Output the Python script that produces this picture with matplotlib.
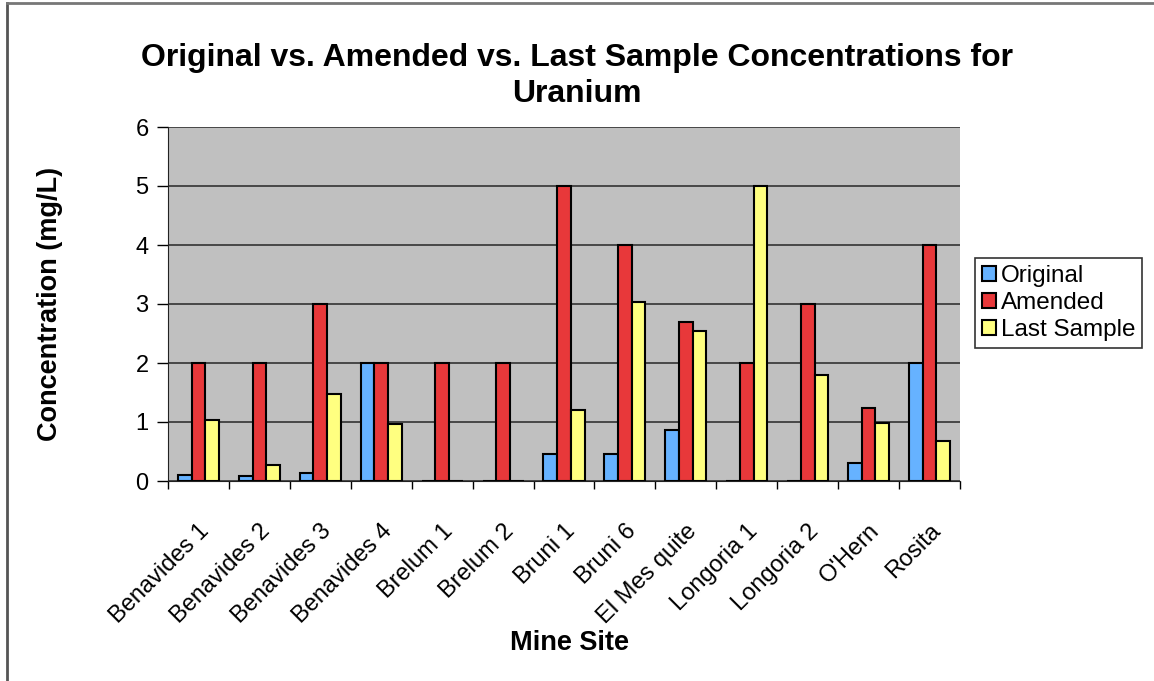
import matplotlib
matplotlib.use("Agg")
import matplotlib.pyplot as plt
import numpy as np
from matplotlib.lines import Line2D

plt.rcParams['font.family'] = ['Liberation Sans', 'DejaVu Sans']

sites = ["Benavides 1", "Benavides 2", "Benavides 3", "Benavides 4", "Brelum 1",
         "Brelum 2", "Bruni 1", "Bruni 6", "El Mes quite", "Longoria 1",
         "Longoria 2", "O'Hern", "Rosita"]
original = [0.1, 0.08, 0.14, 2.0, 0.0, 0.0, 0.46, 0.46, 0.86, 0.0, 0.0, 0.3, 2.0]
amended = [2.0, 2.0, 3.0, 2.0, 2.0, 2.0, 5.0, 4.0, 2.7, 2.0, 3.0, 1.23, 4.0]
last_sample = [1.04, 0.27, 1.48, 0.96, 0.0, 0.0, 1.2, 3.03, 2.55, 5.0, 1.8, 0.98, 0.67]
y_ticks = [0, 1, 2, 3, 4, 5, 6]

fig = plt.figure(figsize=(11.54, 6.81), dpi=100)
ax = fig.add_axes([168/1154, 1-481/681, (960-168)/1154, (481-127)/681])
ax.set_facecolor('#C0C0C0')

x = np.arange(len(sites))
w = 0.225
kw = dict(edgecolor='black', linewidth=1.5, zorder=3)
ax.bar(x - w, original, w, color='#66B2FF', label='Original', **kw)
ax.bar(x, amended, w, color='#E8383A', label='Amended', **kw)
ax.bar(x + w, last_sample, w, color='#FFFF80', label='Last Sample', **kw)

ax.set_xlim(-0.5, len(sites) - 0.5)
ax.set_ylim(0, 6)
ax.set_yticks(y_ticks)
ax.yaxis.grid(True, color='#333333', linewidth=1.2, zorder=1)
ax.set_axisbelow(True)
ax.tick_params(axis='y', labelsize=17, length=8, width=1, direction='out', pad=6)
ax.set_xticks(x)
ax.set_xticklabels(sites, rotation=45, ha='right', rotation_mode='anchor', fontsize=17)
ax.tick_params(axis='x', which='major', length=0, pad=28)
ax.set_xticks(np.arange(-0.5, len(sites)), minor=True)
ax.tick_params(axis='x', which='minor', length=6, width=1, direction='out')
for s in ['top', 'right']:
    ax.spines[s].set_visible(False)
ax.spines['left'].set_color('#222222')
ax.spines['bottom'].set_color('#222222')

ax.set_ylabel('Concentration (mg/L)', fontsize=19.5, fontweight='bold', labelpad=52)
ax.set_xlabel('Mine Site', fontsize=19.5, fontweight='bold', labelpad=2)
ax.xaxis.set_label_coords(570/1154, 1 - 643/681, transform=fig.transFigure)
ax.xaxis.label.set_va('center')
fig.text(0.5, 1 - 76/681, 'Original vs. Amended vs. Last Sample Concentrations for\nUranium',
         ha='center', va='center', fontsize=23, fontweight='bold', linespacing=1.3)

leg = ax.legend(loc='upper left', bbox_to_anchor=(975/1154, 1-258/681), bbox_transform=fig.transFigure,
                fontsize=17.5, frameon=True, fancybox=False, edgecolor='black',
                handlelength=0.55, handleheight=0.55, handletextpad=0.2, borderpad=0.3,
                labelspacing=0.2, borderaxespad=0)
leg.get_frame().set_linewidth(1.2)

fig.add_artist(Line2D([7/1154, 7/1154], [0, 1 - 3/681], transform=fig.transFigure, color='#555555', lw=2))
fig.add_artist(Line2D([7/1154, 1], [1 - 3/681, 1 - 3/681], transform=fig.transFigure, color='#777777', lw=2))

fig.savefig('out.png', dpi=100)
